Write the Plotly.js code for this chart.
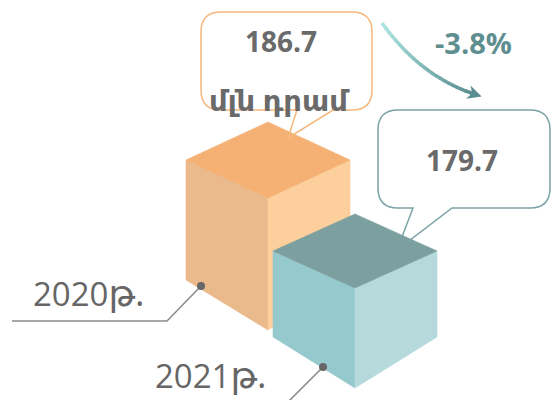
<!DOCTYPE html>
<html>
<head>
<meta charset="utf-8">
<script src="https://cdn.plot.ly/plotly-3.0.1.min.js"></script>
<style>
  html, body { margin: 0; padding: 0; background: #fff; }
  #chart { width: 551px; height: 400px; }
</style>
</head>
<body>
<div id="chart"></div>
<script>
// values
const years = ['2020թ.', '2021թ.'];
const values = [186.7, 179.7];
const unitLabel = 'մլն դրամ';
const changeLabel = '-3.8%';

// face colours for each cube
const palettes = [
    { top: '#f4b173', left: '#eab98c', right: '#fdcf9d', edge: '#f6b77d' },
    { top: '#7c9fa0', left: '#96c9cd', right: '#b6dadb', edge: '#7ba3a5' }
];

// where the cubes sit (plot units, y grows downward)
// x,y = front top corner, w = half width, d = iso drop, hf/hs = front/side height
const cubes = [
    { x: 268, y: 198, w: 82, d: 38, hf: 132, hs: 120, dot: [201, 286] },
    { x: 355, y: 288, w: 82, d: 37, hf: 100, hs: 86, dot: [323, 367] }
];

const traces = [];
const shapes = [];
const annotations = [];

function face(pts, color) {
    traces.push({
        x: pts.map(p => p[0]).concat([pts[0][0]]),
        y: pts.map(p => p[1]).concat([pts[0][1]]),
        type: 'scatter',
        mode: 'lines',
        fill: 'toself',
        fillcolor: color,
        line: { color: color, width: 0.6 },
        hoverinfo: 'skip'
    });
}

// draw the cubes, first one behind the second
cubes.forEach((c, i) => {
    const pal = palettes[i];
    const T = [c.x, c.y - 2 * c.d], L = [c.x - c.w, c.y - c.d];
    const R = [c.x + c.w, c.y - c.d], F = [c.x, c.y];
    face([L, F, [F[0], F[1] + c.hf], [L[0], L[1] + c.hs]], pal.left);
    face([F, R, [R[0], R[1] + c.hs], [F[0], F[1] + c.hf]], pal.right);
    face([T, R, F, L], pal.top);
});

// leader lines to the year labels
const leaders = [
    [[12, 321], [167, 321], cubes[0].dot],
    [[284, 406], cubes[1].dot]
];
leaders.forEach(pts => {
    traces.push({
        x: pts.map(p => p[0]), y: pts.map(p => p[1]),
        type: 'scatter', mode: 'lines',
        line: { color: '#8a8a8a', width: 1.5 },
        hoverinfo: 'skip'
    });
});
traces.push({
    x: cubes.map(c => c.dot[0]), y: cubes.map(c => c.dot[1]),
    type: 'scatter', mode: 'markers',
    marker: { color: '#666666', size: 8 },
    hoverinfo: 'skip'
});

// speech bubble outline with a tail on the bottom edge
function bubble(x0, y0, x1, y1, r, a, b, tx, ty) {
    return `M ${x0 + r},${y0} L ${x1 - r},${y0} Q ${x1},${y0} ${x1},${y0 + r} ` +
        `L ${x1},${y1 - r} Q ${x1},${y1} ${x1 - r},${y1} L ${b},${y1} L ${tx},${ty} ` +
        `L ${a},${y1} L ${x0 + r},${y1} Q ${x0},${y1} ${x0},${y1 - r} ` +
        `L ${x0},${y0 + r} Q ${x0},${y0} ${x0 + r},${y0} Z`;
}
shapes.push({
    type: 'path', xref: 'x', yref: 'y',
    path: bubble(201, 12, 372, 110, 20, 297, 333, 288, 138),
    line: { color: palettes[0].edge, width: 1.5 },
    fillcolor: 'rgba(0,0,0,0)'
});
shapes.push({
    type: 'path', xref: 'x', yref: 'y',
    path: bubble(378, 110, 550, 208, 20, 413, 452, 397, 250),
    line: { color: palettes[1].edge, width: 1.5 },
    fillcolor: 'rgba(0,0,0,0)'
});

// curved arrow with a colour fade
const P0 = [382, 23], C = [420, 76], P2 = [474, 94];
const c0 = [170, 228, 224], c1 = [90, 142, 144];
const N = 24;
function bez(t) {
    const u = 1 - t;
    return [u * u * P0[0] + 2 * u * t * C[0] + t * t * P2[0],
            u * u * P0[1] + 2 * u * t * C[1] + t * t * P2[1]];
}
for (let k = 0; k < N; k++) {
    const a = bez(k / N), b = bez(Math.min(1, (k + 1.3) / N));
    const t = k / (N - 1);
    const col = c0.map((v, j) => Math.round(v + (c1[j] - v) * t));
    traces.push({
        x: [a[0], b[0]], y: [a[1], b[1]],
        type: 'scatter', mode: 'lines',
        line: { color: `rgb(${col.join(',')})`, width: 3.5 },
        hoverinfo: 'skip'
    });
}
{
    const dx = P2[0] - C[0], dy = P2[1] - C[1];
    const len = Math.hypot(dx, dy), ux = dx / len, uy = dy / len;
    const nx = -uy, ny = ux;
    const tip = [P2[0] + ux * 8, P2[1] + uy * 8];
    const back = [P2[0] - ux * 6, P2[1] - uy * 6];
    const notch = [P2[0] - ux * 2, P2[1] - uy * 2];
    shapes.push({
        type: 'path', xref: 'x', yref: 'y',
        path: `M ${tip[0]},${tip[1]} L ${back[0] + nx * 7},${back[1] + ny * 7} ` +
            `L ${notch[0]},${notch[1]} L ${back[0] - nx * 7},${back[1] - ny * 7} Z`,
        line: { width: 0 },
        fillcolor: 'rgb(90,142,144)'
    });
}

// texts
const grey = '#6a6a6a';
const fam = '"Open Sans", "DejaVu Sans", sans-serif';
function label(text, x, y, size, color, weight, anchor) {
    annotations.push({
        text: text, x: x, y: y, xref: 'x', yref: 'y',
        showarrow: false, xanchor: anchor || 'center', yanchor: 'middle',
        font: { family: fam, size: size, color: color, weight: weight }
    });
}
// the Armenian suffix is drawn a bit larger, as in the picture
const yearText = s => s.replace(/(\D+)$/, '<span style="font-size:36px">$1</span>');

label(values[0].toFixed(1), 281, 41, 28, grey, 'bold');
label(unitLabel, 279, 99, 29, grey, 'bold');
label(values[1].toFixed(1), 462, 160, 28, grey, 'bold');
label(changeLabel, 473, 42, 29, '#5e8e8f', 'bold');
label(yearText(years[0]), 31, 292, 33, '#666666', 'normal', 'left');
label(yearText(years[1]), 153, 374, 33, '#666666', 'normal', 'left');

const layout = {
    width: 551,
    height: 400,
    margin: { l: 0, r: 0, t: 0, b: 0 },
    paper_bgcolor: '#ffffff',
    plot_bgcolor: '#ffffff',
    showlegend: false,
    xaxis: { range: [0, 551], visible: false, fixedrange: true },
    yaxis: { range: [400, 0], visible: false, fixedrange: true },
    shapes: shapes,
    annotations: annotations
};

Plotly.newPlot('chart', traces, layout, { displayModeBar: false, staticPlot: true });
</script>
</body>
</html>
